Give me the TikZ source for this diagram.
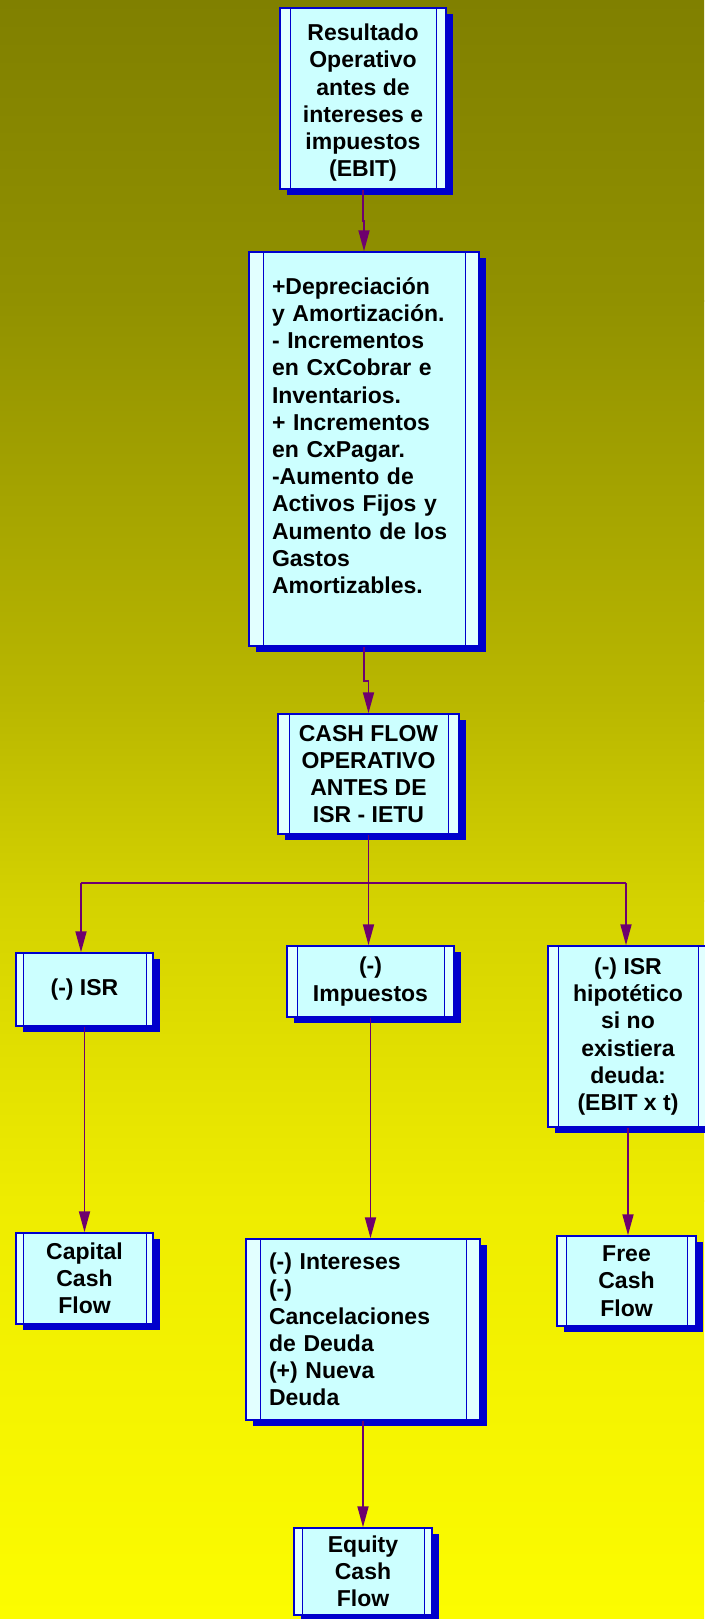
\documentclass[tikz,border=0pt]{standalone}
\usepackage{fontspec}
\setmainfont{Liberation Sans}
\usetikzlibrary{arrows.meta,shadows}
\definecolor{bordc}{RGB}{0,0,204}
\definecolor{shadc}{RGB}{0,0,204}
\definecolor{boxc}{RGB}{204,255,255}
\definecolor{stripc}{RGB}{226,255,255}
\definecolor{linec}{RGB}{110,0,110}
\definecolor{bgA}{RGB}{128,128,0}
\definecolor{bgB}{RGB}{145,145,0}
\definecolor{bgC}{RGB}{185,183,0}
\definecolor{bgD}{RGB}{212,210,0}
\definecolor{bgE}{RGB}{238,236,0}
\definecolor{bgF}{RGB}{252,252,0}
\newcommand\boxfnt{\bfseries\fontsize{23pt}{27.2pt}\selectfont}
\tikzset{
  pbox/.style={draw=bordc, line width=1.5pt, fill=boxc, inner sep=0pt, font=\boxfnt,
    drop shadow={shadow xshift=6.5pt, shadow yshift=-6pt, fill=shadc, opacity=1},
    path picture={
      \fill[stripc] (path picture bounding box.north west) rectangle ([xshift=#1]path picture bounding box.south west);
      \fill[stripc] (path picture bounding box.north east) rectangle ([xshift=-#1]path picture bounding box.south east);
      \draw[bordc, line width=1pt] ([xshift=#1]path picture bounding box.north west) -- ([xshift=#1]path picture bounding box.south west);
      \draw[bordc, line width=1pt] ([xshift=-#1]path picture bounding box.north east) -- ([xshift=-#1]path picture bounding box.south east);
    }},
  conn/.style={draw=linec, line width=1.8pt, -{Triangle[length=21pt,width=11pt]}, color=linec},
  wire/.style={draw=linec, line width=1.8pt}
}
\begin{document}
\begin{tikzpicture}[x=1pt,y=-1pt]
\useasboundingbox (0,0) rectangle (704,1619);
\shade[top color=bgA,bottom color=bgB] (0,0) rectangle (704,301);
\shade[top color=bgB,bottom color=bgC] (0,300) rectangle (704,701);
\shade[top color=bgC,bottom color=bgD] (0,700) rectangle (704,901);
\shade[top color=bgD,bottom color=bgE] (0,900) rectangle (704,1201);
\shade[top color=bgE,bottom color=bgF] (0,1200) rectangle (704,1619);

\node[pbox=10pt, minimum width=166pt, minimum height=181pt, align=center] (b1) at (363,98.5)
  {\rule{0pt}{25pt}Resultado\\Operativo\\antes de\\intereses e\\impuestos\\(EBIT)};
\node[pbox=14pt, minimum width=230pt, minimum height=394pt, text width=184pt, inner xsep=23pt, align=left] (b2) at (364,449)
  {+Depreciación\\y Amortización.\\- Incrementos\\en CxCobrar e\\Inventarios.\\+ Incrementos\\en CxPagar.\\-Aumento de\\Activos Fijos y\\Aumento de los\\Gastos\\Amortizables.\\\mbox{}};
\node[pbox=11pt, minimum width=181pt, minimum height=120pt, align=center] (b3) at (368.5,774)
  {CASH FLOW\\OPERATIVO\\ANTES DE\\ISR - IETU};
\node[pbox=7pt, minimum width=137pt, minimum height=73pt, align=center] (isr) at (84.5,989.5) {(-) ISR};
\node[pbox=10pt, minimum width=167pt, minimum height=71pt, align=center] (imp) at (370.5,981.5) {(-)\\Impuestos};
\node[pbox=10pt, minimum width=160pt, minimum height=181pt, align=center] (hip) at (628,1036.5)
  {(-) ISR\\hipotético\\si no\\existiera\\deuda:\\(EBIT x t)};
\node[pbox=7pt, minimum width=137pt, minimum height=91pt, align=center] (cap) at (84.5,1278.5) {Capital\\Cash\\Flow};
\node[pbox=14pt, minimum width=234pt, minimum height=181pt, text width=188pt, inner xsep=23pt, align=left] (int) at (363,1329.5)
  {(-) Intereses\\(-)\\Cancelaciones\\de Deuda\\(+) Nueva\\Deuda};
\node[pbox=9pt, minimum width=139pt, minimum height=90pt, align=center] (free) at (626.5,1281) {Free\\Cash\\Flow};
\node[pbox=8pt, minimum width=138pt, minimum height=87pt, align=center] (eq) at (363,1571.5) {Equity\\Cash\\Flow};

\coordinate (barL) at (81,883);
\coordinate (barR) at (626,883);

\draw[conn] (b1.south) -- ++(0,31) -| (b2.north);
\draw[conn] (b2.south) -- ++(0,34) -| (b3.north);
\draw[wire] (barL) -- (barR);
\draw[conn] (b3.south) -- (b3.south |- imp.north);
\draw[conn] (barL) -- (barL |- isr.north);
\draw[conn] (barR) -- (barR |- hip.north);
\draw[conn] (isr.south) -- (cap.north);
\draw[conn] (imp.south) -- (imp.south |- int.north);
\draw[conn] (hip.south) -- (hip.south |- free.north);
\draw[conn] (int.south) -- (eq.north);
\end{tikzpicture}
\end{document}
